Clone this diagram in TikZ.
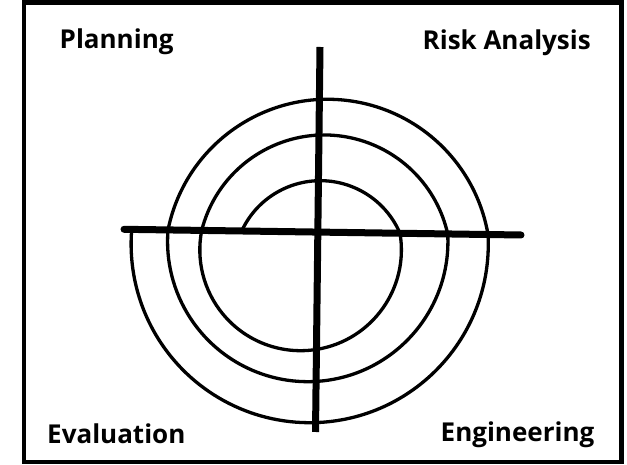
\documentclass[tikz,border=0pt]{standalone}
\usepackage{fontspec}
\setmainfont{Open Sans}
\begin{document}
\begin{tikzpicture}[x=1pt,y=1pt,
  axisline/.style={line width=7pt,black},
  spiralline/.style={line width=3.3pt,black},
  framebox/.style={line width=4.5pt,black},
  label/.style={inner sep=0pt,font=\fontsize{26}{31}\selectfont\bfseries}]
\useasboundingbox (0,0) rectangle (627,465);
\fill[white] (0,0) rectangle (627,465);
\draw[framebox] (24,3) rectangle (621.3,462.5);
% axes
\coordinate (hl) at (124,235.7);
\coordinate (hr) at (521,230);
\coordinate (vt) at (320,418);
\coordinate (vb) at (315.5,33);
\draw[axisline,line cap=round] (hl) -- (hr);
\draw[axisline,line cap=butt] (vt) -- (vb);
% spiral
\coordinate (s0) at (241.7,234.0);
\draw[spiralline] (s0)
  arc[start angle=155.22, end angle=23.12, radius=86.62]
  arc[start angle=9.49, end angle=-191.16, radius=100.79]
  arc[start angle=165.79, end angle=12.56, radius=126.45]
  arc[start angle=3.09, end angle=-184.74, radius=140.19]
  arc[start angle=168.61, end angle=9.74, radius=162.78]
  arc[start angle=3.08, end angle=-184.72, radius=178.59];
% labels
\node[label,anchor=base west] (plan) at (59.5,416.7) {Planning};
\node[label,anchor=base east] (risk) at (591,415) {Risk Analysis};
\node[label,anchor=base west] (eval) at (47,21.7) {Evaluation};
\node[label,anchor=base east] (eng) at (594.5,23.3) {Engineering};
\end{tikzpicture}
\end{document}
